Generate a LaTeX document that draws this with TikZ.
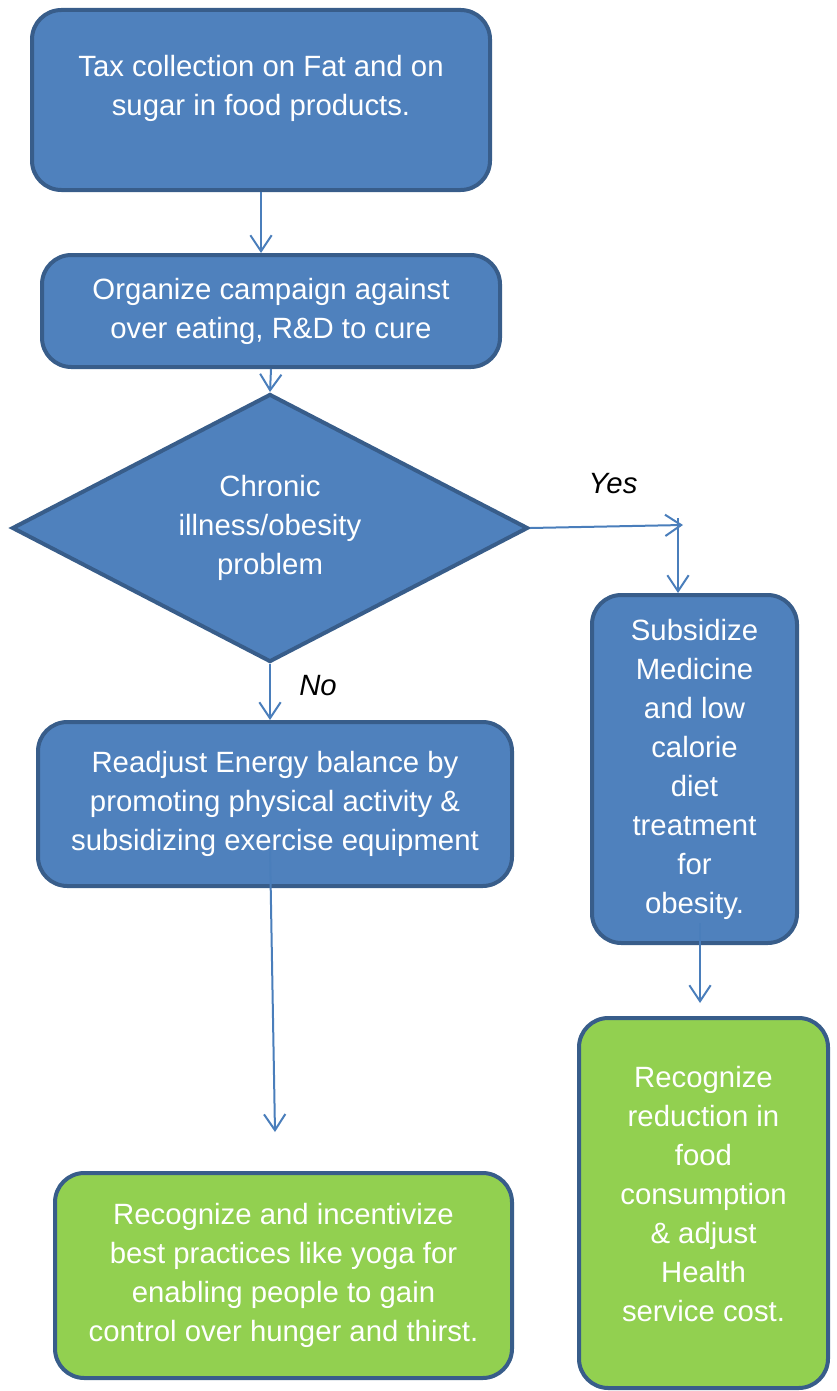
\documentclass[tikz,border=0pt]{standalone}
\usepackage{fontspec}
\setmainfont{Liberation Sans}
\usetikzlibrary{shapes.geometric,arrows.meta}
\definecolor{boxblue}{HTML}{4F81BD}
\definecolor{boxedge}{HTML}{385D8A}
\definecolor{boxgreen}{HTML}{92D050}
\definecolor{linkblue}{HTML}{4A7EBB}
\begin{document}
\begin{tikzpicture}[x=0.75pt,y=-0.75pt,
  box/.style={rectangle, rounded corners=22pt, draw=boxedge, line width=3pt, fill=boxblue,
    text=white, align=center, font=\fontsize{22}{29.25}\selectfont, inner sep=0pt},
  greenbox/.style={box, fill=boxgreen},
  decision/.style={diamond, aspect=1.93, draw=boxedge, line width=3pt, fill=boxblue, text=white,
    align=center, font=\fontsize{22}{29.25}\selectfont, inner sep=0pt},
  link/.style={draw=linkblue, line width=1.5pt, -{Straight Barb[length=12pt,width=16pt]}},
  answer/.style={font=\fontsize{22}{29.25}\selectfont\itshape, text=black, inner sep=0pt}]
\useasboundingbox (0,0) rectangle (836,1391);

\node[box, minimum width=343.5pt, minimum height=135pt] (tax) at (261,100)
  {Tax collection on Fat and on\\sugar in food products.\\[-8pt]~};
\node[box, minimum width=343.5pt, minimum height=84pt] (campaign) at (271,311)
  {Organize campaign against\\over eating, R\&D to cure};
\node[decision, minimum width=387pt, minimum height=201pt] (dia) at (270,528)
  {Chronic\\illness/obesity\\problem};
\node[box, minimum width=153.75pt, minimum height=261pt] (subs) at (694.5,769)
  {Subsidize\\Medicine\\and low\\calorie\\diet\\treatment\\for\\obesity.};
\node[greenbox, minimum width=186.75pt, minimum height=277.5pt] (recog2) at (703.5,1203)
  {Recognize\\reduction in\\food\\consumption\\\& adjust\\Health\\service cost.\\[-16pt]~};
\node[box, minimum width=355.5pt, minimum height=123pt] (readjust) at (275,804)
  {Readjust Energy balance by\\promoting physical activity \&\\subsidizing exercise equipment};
\node[greenbox, minimum width=342.75pt, minimum height=153.75pt] (recog1) at (283.5,1275.5)
  {Recognize and incentivize\\best practices like yoga for\\enabling people to gain\\control over hunger and thirst.};

\node[answer] (yes) at (613,484) {Yes};
\node[answer] (no) at (318,686) {No};

\coordinate (yesEnd) at (683,525);
\coordinate (yesTop) at (678,518);
\coordinate (subsOut) at (700,923);
\coordinate (subsEnd) at (700,1003);
\coordinate (readOut) at (270,848);
\coordinate (readEnd) at (275,1132);

\draw[link] (tax.south) -- (tax.south |- campaign.north);
\draw[link] (campaign.south) -- (dia.north);
\draw[link] (dia.east) -- (yesEnd);
\draw[link] (yesTop) -- (yesTop |- subs.north);
\draw[link] (dia.south) -- (dia.south |- readjust.north);
\draw[link] (readOut) -- (readEnd);
\draw[link] (subsOut) -- (subsEnd);
\end{tikzpicture}
\end{document}
